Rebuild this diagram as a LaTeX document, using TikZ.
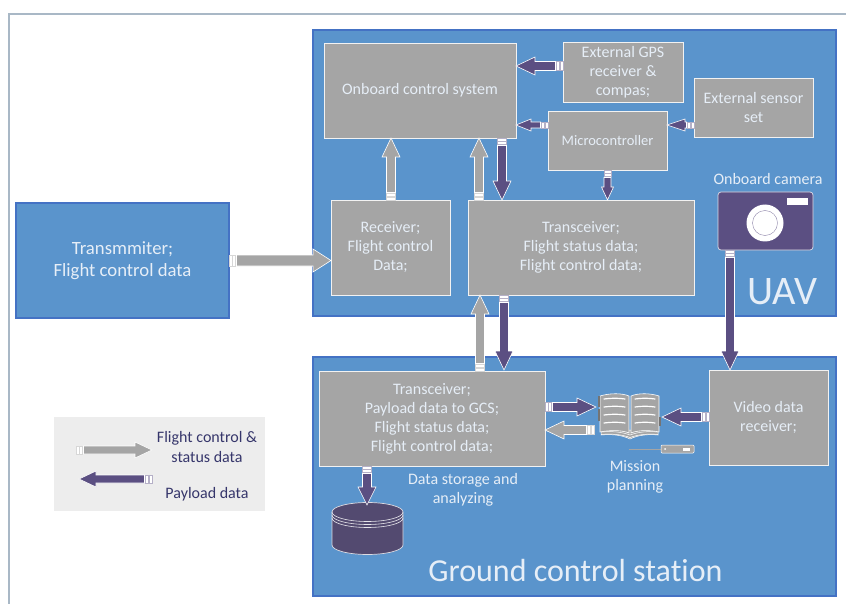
\documentclass[tikz,border=0pt]{standalone}
\usepackage{fontspec}
\setmainfont{Carlito}[Ligatures=CommonOff]
\usetikzlibrary{calc}
\definecolor{panelblue}{HTML}{5A94CC}
\definecolor{panelline}{HTML}{4472C4}
\definecolor{boxgrey}{HTML}{A5A5A5}
\definecolor{payload}{HTML}{5B4F82}
\definecolor{drum}{HTML}{534A70}
\definecolor{framegrey}{HTML}{A9B8C6}
\definecolor{legendgrey}{HTML}{EDEDED}
\definecolor{legendtext}{HTML}{36366B}
\definecolor{labelwhite}{HTML}{E6EEF7}
\tikzset{
  panel/.style={draw=panelline, fill=panelblue, line width=2.2pt, outer sep=0pt, inner sep=0pt, minimum width=#1},
  databox/.style={draw=white!85!boxgrey, fill=boxgrey, line width=0.7pt, outer sep=0pt, inner sep=0pt, text=labelwhite, align=center, font=\fontsize{16}{19}\selectfont},
  note/.style={text=labelwhite, align=center, inner sep=0pt, font=\fontsize{16}{19}\selectfont},
  keynote/.style={text=legendtext, align=center, inner sep=0pt, font=\fontsize{16}{20}\selectfont},
  flowline/.style={draw=white, line width=0.6pt, line join=miter}
}
% colour, half bar, half head, head length, from, to
\newcommand{\flow}[6]{
  \foreach \s in {0,3.6}{
    \draw[draw=#1!45!white, fill=white, line width=0.5pt]
      ($(#5)!\s pt!(#6)!#2!90:(#6)$) -- ($(#5)!\s pt+3pt!(#6)!#2!90:(#6)$) --
      ($(#5)!\s pt+3pt!(#6)!#2!270:(#6)$) -- ($(#5)!\s pt!(#6)!#2!270:(#6)$) -- cycle;
  }
  \draw[flowline, fill=#1]
    ($(#5)!7.5pt!(#6)!#2!90:(#6)$) -- ($(#6)!#4!(#5)!#2!270:(#5)$) -- ($(#6)!#4!(#5)!#3!270:(#5)$) --
    (#6) -- ($(#6)!#4!(#5)!#3!90:(#5)$) -- ($(#6)!#4!(#5)!#2!90:(#5)$) -- ($(#5)!7.5pt!(#6)!#2!270:(#6)$) -- cycle;
}
\begin{document}
\begin{tikzpicture}[x=1pt, y=-1pt]
  \useasboundingbox (0,0) rectangle (846,604);
  \draw[framegrey, line width=2.5pt] (9,604) -- (9,14) -- (846,14);

  % panels
  \node[panel=523pt, minimum height=286pt] (uav) at (574.5,173) {};
  \node[panel=523pt, minimum height=239pt] (gcs) at (574.5,476.5) {};
  \node[panel=213pt, minimum height=115pt, text=labelwhite, align=center, font=\fontsize{18.7}{22}\selectfont] (tx) at (122.5,260.5) {Transmmiter;\\Flight control data};
  \node[text=labelwhite, inner sep=0pt, font=\fontsize{40.5}{44}\selectfont] (uavname) at (782.5,292) {UAV};
  \node[text=labelwhite, inner sep=0pt, font=\fontsize{32}{36}\selectfont] (gcsname) at (575.5,571) {Ground control station};

  % boxes in the UAV
  \node[databox, minimum width=192pt, minimum height=95pt] (obc) at (420,90.5) {Onboard control system};
  \node[databox, minimum width=120pt, minimum height=60pt] (gps) at (623,72) {External GPS\\receiver \&\\compas;};
  \node[databox, minimum width=119pt, minimum height=59pt] (sensor) at (753.5,107.5) {External sensor\\set};
  \node[databox, minimum width=119pt, minimum height=59pt, font=\fontsize{14.5}{19}\selectfont] (micro) at (607.5,140.5) {Microcontroller};
  \node[databox, minimum width=119pt, minimum height=95pt] (rx) at (390.5,247.5) {Receiver;\\Flight control\\Data;};
  \node[databox, minimum width=226pt, minimum height=95pt] (trx) at (581,247.5) {Transceiver;\\Flight status data;\\Flight control data;};

  % boxes in the ground station
  \node[databox, minimum width=226pt, minimum height=95pt] (gtrx) at (432,418.5) {Transceiver;\\Payload data to GCS;\\Flight status data;\\Flight control data;};
  \node[databox, minimum width=119pt, minimum height=95pt] (video) at (768.5,417.5) {Video data\\receiver;};
  \node[note] (storage) at (463,490) {Data storage and\\analyzing};
  \node[note] (mission) at (635,477) {Mission\\planning};

  % camera
  \node[note] (camname) at (768,179) {Onboard camera};
  \node[draw=white!80!payload, fill=payload, rounded corners=3pt, line width=0.7pt, minimum width=95pt, minimum height=58pt, inner sep=0pt, outer sep=0pt] (cam) at (765.5,221) {};
  \fill[white] (787,198) rectangle (808,205);
  \fill[white] (765,223) circle (18.5);
  \draw[payload!70!white, line width=0.4pt] (765,223) circle (12.5);

  % storage drum
  \draw[draw=white!80!drum, fill=drum, line width=0.7pt] (332,512) -- (332,545) arc[start angle=180, end angle=360, x radius=35.5pt, y radius=9.5pt] -- (403,512) arc[start angle=0, end angle=180, x radius=35.5pt, y radius=9.5pt] -- cycle;
  \foreach \y in {512,515,518}{
    \draw[white!85!drum, line width=0.6pt] (332,\y) arc[start angle=180, end angle=360, x radius=35.5pt, y radius=9.5pt];
  }
  \coordinate (drumtop) at (367,505);

  % book
  \begin{scope}[shift={(598,392)}]
    \draw[white, fill=boxgrey, line width=0.5pt] (3,38) -- (3,43) .. controls (14,42) and (24,43) .. (32,47) .. controls (40,43) and (50,42) .. (60,43) -- (60,38) -- cycle;
    \foreach \y in {40,42.5}{
      \draw[white, line width=0.5pt] (3,\y) .. controls (14,\y-1) and (24,\y) .. (32,\y+3) .. controls (40,\y) and (50,\y-1) .. (60,\y);
    }
    \draw[white, fill=boxgrey, line width=0.6pt] (2,4) .. controls (12,1) and (24,1) .. (31,4) -- (31,41) .. controls (24,38) and (12,38) .. (2,40) -- cycle;
    \draw[white, fill=boxgrey, line width=0.6pt] (33,4) .. controls (40,1) and (52,1) .. (61,4) -- (61,40) .. controls (52,38) and (40,38) .. (33,41) -- cycle;
    \foreach \y in {7,15,23,31}{
      \draw[white, line width=1.2pt, line cap=round] (6,\y) .. controls (13,\y-1) and (21,\y-1) .. (27,\y);
      \draw[white, line width=1.2pt, line cap=round] (37,\y) .. controls (43,\y-1) and (51,\y-1) .. (57,\y);
    }
    \fill[boxgrey!70!black] (0,4) rectangle (2,15);
    \fill[boxgrey!70!black] (0,17) rectangle (2,29);
    \fill[boxgrey!70!black] (61,25) rectangle (63,34);
  \end{scope}
  \draw[boxgrey, line width=0.7pt] (629,449) -- (661,449);
  \node[draw=white, fill=boxgrey, rounded corners=1pt, line width=0.5pt, minimum width=33pt, minimum height=8pt, inner sep=0pt, outer sep=0pt] (pointer) at (677.5,449) {};
  \fill[white] (665,449) circle (1);
  \fill[white] (683,447.5) rectangle (690,450.5);

  % arrow ends
  \coordinate (book) at (596,407);
  \coordinate (bookb) at (594,430);
  \coordinate (bookc) at (662,417);
  \coordinate (a1) at (obc.east |- 0,66);
  \coordinate (a2) at (gps.west |- 0,66);
  \coordinate (b1) at (obc.east |- 0,125);
  \coordinate (b2) at (micro.west |- 0,125);
  \coordinate (c1) at (micro.east |- 0,125);
  \coordinate (c2) at (sensor.west |- 0,125);
  \coordinate (d1) at (391,138);
  \coordinate (d2) at (391,200);
  \coordinate (e1) at (479,138);
  \coordinate (e2) at (479,200);
  \coordinate (f1) at (502,138);
  \coordinate (f2) at (502,200);
  \coordinate (g1) at (480,295);
  \coordinate (g2) at (480,371);
  \coordinate (h1) at (504,295);
  \coordinate (h2) at (504,370);
  \coordinate (k1) at (rx.west |- tx.east);
  \coordinate (l1) at (gtrx.east |- book);
  \coordinate (l2) at (gtrx.east |- bookb);
  \coordinate (m1) at (video.west |- bookc);
  \coordinate (n1) at (730,250);
  \coordinate (n2) at (730,370);
  \coordinate (o1) at (367,466);

  \flow{payload}{4.5pt}{9pt}{19pt}{a2}{a1}
  \flow{payload}{3pt}{6pt}{15pt}{b2}{b1}
  \flow{payload}{3pt}{6pt}{18pt}{c2}{c1}
  \flow{payload}{3.5pt}{6pt}{13pt}{micro.south}{micro.south |- trx.north}
  \flow{boxgrey}{4.5pt}{9pt}{19pt}{d2}{d1}
  \flow{boxgrey}{4.5pt}{9pt}{19pt}{e2}{e1}
  \flow{payload}{4.5pt}{9pt}{19pt}{f1}{f2}
  \flow{boxgrey}{4.5pt}{9pt}{19pt}{g2}{g1}
  \flow{payload}{4.5pt}{9pt}{19pt}{h1}{h2}
  \flow{boxgrey}{5.5pt}{11.5pt}{18pt}{tx.east}{k1}
  \flow{payload}{4.5pt}{9pt}{19pt}{l1}{book}
  \flow{boxgrey}{4.5pt}{9pt}{19pt}{bookb}{l2}
  \flow{payload}{4.5pt}{9pt}{19pt}{m1}{bookc}
  \flow{payload}{4.5pt}{9pt}{19pt}{n1}{n2}
  \flow{payload}{4.5pt}{9pt}{18pt}{o1}{drumtop}

  % legend
  \node[fill=legendgrey, minimum width=211pt, minimum height=94pt, inner sep=0pt, outer sep=0pt] (legend) at (159.5,464) {};
  \coordinate (k2) at (76,450);
  \coordinate (k3) at (152,450);
  \coordinate (k4) at (152,479);
  \coordinate (k5) at (79,479);
  \flow{boxgrey}{4pt}{8pt}{17pt}{k2}{k3}
  \flow{payload}{4pt}{8pt}{17pt}{k4}{k5}
  \node[keynote] (keya) at (207,447) {Flight control \&\\status data};
  \node[keynote] (keyb) at (207,494) {Payload data};
\end{tikzpicture}
\end{document}
